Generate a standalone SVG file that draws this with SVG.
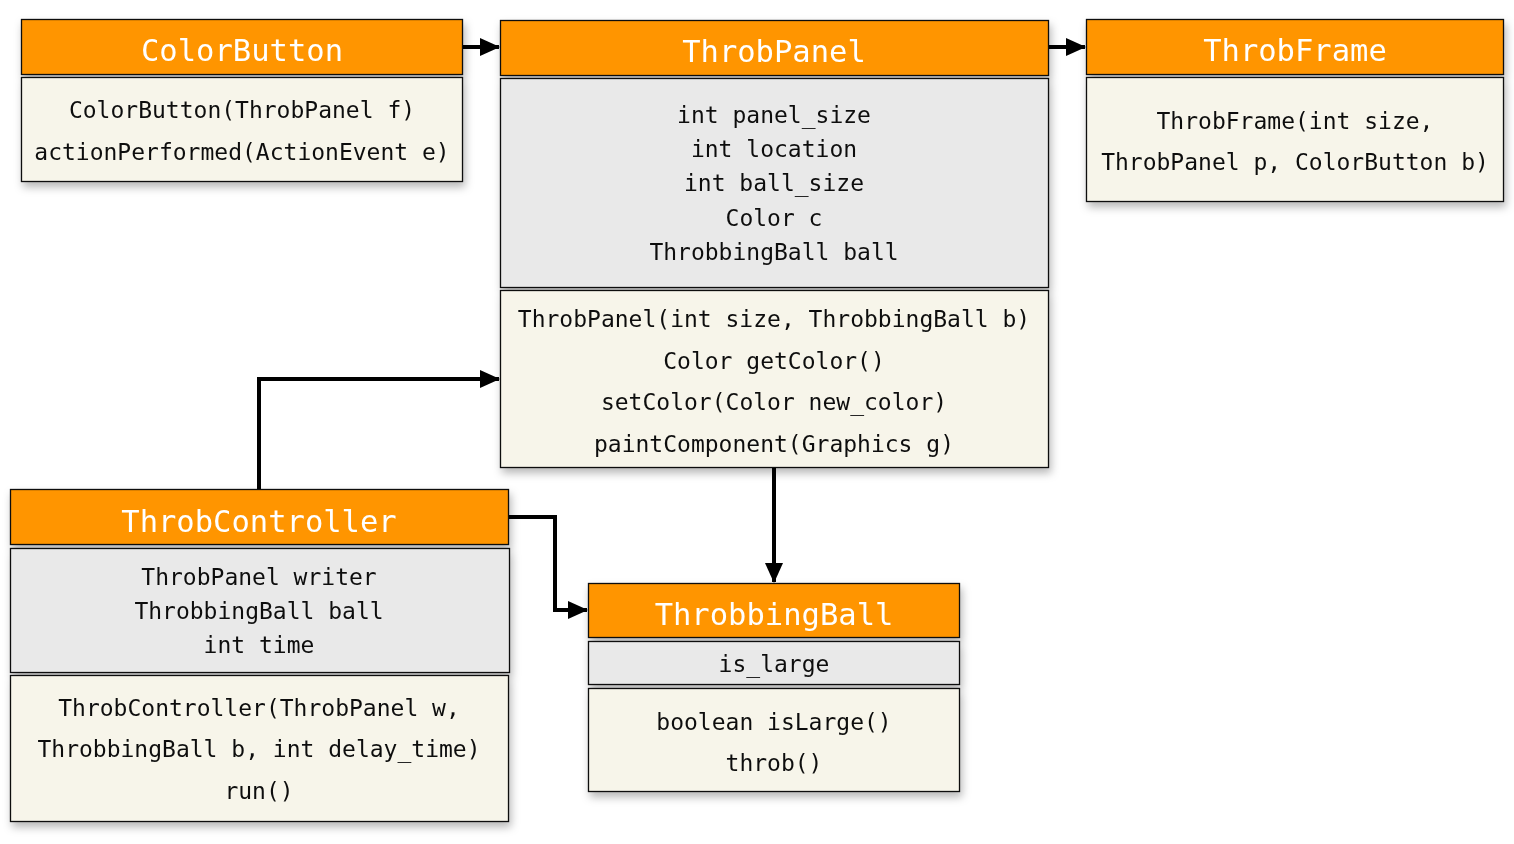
<svg xmlns="http://www.w3.org/2000/svg" width="1514" height="844" viewBox="0 0 1514 844">
<style>
.hd{fill:#FF9500;stroke:#111;stroke-width:1.3}
.at{fill:#E9E9E9;stroke:#111;stroke-width:1.3}
.me{fill:#F7F5EA;stroke:#111;stroke-width:1.3}
.tt{font-family:"DejaVu Sans Mono","Liberation Mono",monospace;font-size:30.5px;fill:#fff;text-anchor:middle}
.tx{font-family:"DejaVu Sans Mono","Liberation Mono",monospace;font-size:23px;fill:#111;text-anchor:middle}
.cn{fill:none;stroke:#000;stroke-width:4}
</style>
<defs>
<filter id="sh" x="-10%" y="-10%" width="125%" height="135%">
<feDropShadow dx="2" dy="5" stdDeviation="4.5" flood-color="#000" flood-opacity="0.28"/>
</filter>
<marker id="ar" viewBox="0 0 20 20" refX="19" refY="10" markerWidth="20" markerHeight="20" markerUnits="userSpaceOnUse" orient="auto">
<path d="M0,1 L20,10 L0,19 z" fill="#000"/>
</marker>
</defs>
<rect width="1514" height="844" fill="#fff"/>

<g id="connectors">
<path class="cn" d="M463,47 H499" marker-end="url(#ar)"/>
<path class="cn" d="M1048,47 H1085" marker-end="url(#ar)"/>
<path class="cn" d="M259,489 V379 H499" marker-end="url(#ar)"/>
<path class="cn" d="M509,517 H555 V610 H587" marker-end="url(#ar)"/>
<path class="cn" d="M774,467 V582" marker-end="url(#ar)"/>
</g>

<g id="ColorButton" filter="url(#sh)">
<rect class="hd" x="21.5" y="19.5" width="441" height="55"/>
<rect class="me" x="21.5" y="77.5" width="441" height="104"/>
<text class="tt" x="242" y="61">ColorButton</text>
<text class="tx" x="242" y="118">ColorButton(ThrobPanel f)</text>
<text class="tx" x="242" y="160">actionPerformed(ActionEvent e)</text>
</g>

<g id="ThrobPanel" filter="url(#sh)">
<rect class="hd" x="500.5" y="20.5" width="548" height="55"/>
<rect class="at" x="500.5" y="78.5" width="548" height="209"/>
<rect class="me" x="500.5" y="290.5" width="548" height="177"/>
<text class="tt" x="774" y="62">ThrobPanel</text>
<text class="tx" x="774" y="123">int panel_size</text>
<text class="tx" x="774" y="157">int location</text>
<text class="tx" x="774" y="191">int ball_size</text>
<text class="tx" x="774" y="226">Color c</text>
<text class="tx" x="774" y="260">ThrobbingBall ball</text>
<text class="tx" x="774" y="327">ThrobPanel(int size, ThrobbingBall b)</text>
<text class="tx" x="774" y="369">Color getColor()</text>
<text class="tx" x="774" y="410">setColor(Color new_color)</text>
<text class="tx" x="774" y="452">paintComponent(Graphics g)</text>
</g>

<g id="ThrobFrame" filter="url(#sh)">
<rect class="hd" x="1086.5" y="19.5" width="417" height="55"/>
<rect class="me" x="1086.5" y="77.5" width="417" height="124"/>
<text class="tt" x="1295" y="61">ThrobFrame</text>
<text class="tx" x="1295" y="129">ThrobFrame(int size,</text>
<text class="tx" x="1295" y="170">ThrobPanel p, ColorButton b)</text>
</g>

<g id="ThrobController" filter="url(#sh)">
<rect class="hd" x="10.5" y="489.5" width="498" height="55"/>
<rect class="at" x="10.5" y="548.5" width="499" height="124"/>
<rect class="me" x="10.5" y="675.5" width="498" height="146"/>
<text class="tt" x="259" y="532">ThrobController</text>
<text class="tx" x="259" y="585">ThrobPanel writer</text>
<text class="tx" x="259" y="619">ThrobbingBall ball</text>
<text class="tx" x="259" y="653">int time</text>
<text class="tx" x="259" y="716">ThrobController(ThrobPanel w,</text>
<text class="tx" x="259" y="757">ThrobbingBall b, int delay_time)</text>
<text class="tx" x="259" y="799">run()</text>
</g>

<g id="ThrobbingBall" filter="url(#sh)">
<rect class="hd" x="588.5" y="583.5" width="371" height="54"/>
<rect class="at" x="588.5" y="641.5" width="371" height="43"/>
<rect class="me" x="588.5" y="688.5" width="371" height="103"/>
<text class="tt" x="774" y="625">ThrobbingBall</text>
<text class="tx" x="774" y="672">is_large</text>
<text class="tx" x="774" y="730">boolean isLarge()</text>
<text class="tx" x="774" y="771">throb()</text>
</g>
</svg>
